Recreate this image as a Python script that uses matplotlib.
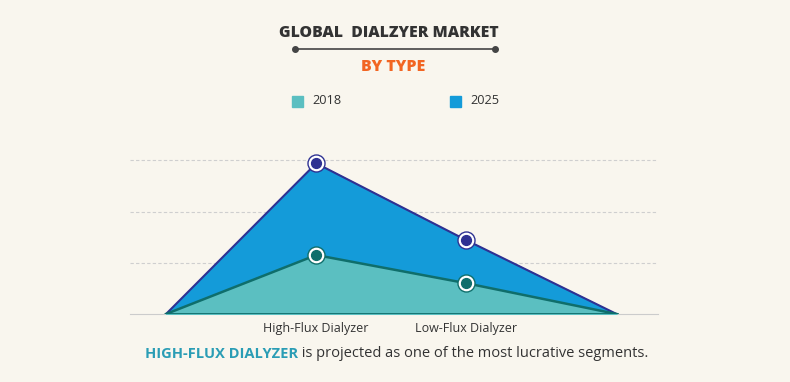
import matplotlib.pyplot as plt
from matplotlib.patches import Rectangle
from matplotlib.lines import Line2D

categories = ['', 'High-Flux Dialyzer', 'Low-Flux Dialyzer', '']
values_2018 = [0, 1.15, 0.60, 0]
values_2025 = [0, 2.94, 1.44, 0]

bg = '#f9f6ee'
fill_2018 = '#5bbfc1'
line_2018 = '#0f6e6b'
fill_2025 = '#149bd9'
line_2025 = '#2e3192'

W, H = 790, 382
fig = plt.figure(figsize=(W / 100, H / 100), dpi=100, facecolor=bg)
plt.rcParams['font.family'] = ['Open Sans', 'DejaVu Sans']

def fx(px):
    return px / W

def fy(py):
    return 1 - py / H

ax = fig.add_axes([fx(130), fy(314), fx(658) - fx(130), fy(150) - fy(314)])
ax.set_facecolor(bg)
x = list(range(len(categories)))

ax.fill_between(x, values_2025, color=fill_2025, zorder=2)
ax.plot(x, values_2025, color=line_2025, lw=1.5, zorder=3)
ax.fill_between(x, values_2018, color=fill_2018, zorder=4)
ax.plot(x, values_2018, color=line_2018, lw=1.8, zorder=5)
ax.plot([0, 3], [0, 0], color=line_2018, lw=2, zorder=5)

mid = x[1:3]
for vals, c in [(values_2025, line_2025), (values_2018, line_2018)]:
    ys = vals[1:3]
    ax.scatter(mid, ys, s=150, color=c, zorder=6)
    ax.scatter(mid, ys, s=105, color='white', zorder=7)
    ax.scatter(mid, ys, s=50, color=c, zorder=8)

ax.set_xlim(-0.24, 3.276)
ax.set_ylim(0, 3.2)
ax.set_yticks([1, 2, 3])
ax.yaxis.grid(True, color='#cfcfcf', lw=0.8, ls=(0, (3, 2)))
ax.set_axisbelow(True)
ax.set_xticks([1, 2])
ax.set_xticklabels(categories[1:3], fontsize=9, color='#333333')
ax.tick_params(axis='x', length=0, pad=6)
ax.tick_params(axis='y', length=0, labelleft=False)
for s in ['top', 'right', 'left']:
    ax.spines[s].set_visible(False)
ax.spines['bottom'].set_color('#cccccc')
ax.spines['bottom'].set_linewidth(0.8)

# titles
fig.text(fx(389), fy(33), 'GLOBAL  DIALZYER MARKET', ha='center', va='center',
         fontsize=11.3, fontweight='heavy', color='#333333')
fig.add_artist(Line2D([fx(295), fx(495)], [fy(49), fy(49)], color='#444444', lw=1.2,
                      transform=fig.transFigure))
fig.add_artist(Line2D([fx(295), fx(495)], [fy(49), fy(49)], color='#444444', lw=0,
                      marker='o', markersize=4, transform=fig.transFigure))
fig.text(fx(393), fy(67), 'BY TYPE', ha='center', va='center',
         fontsize=11.5, fontweight='heavy', color='#f26522')

# legend
for px, label, c in [(292, '2018', fill_2018), (450, '2025', fill_2025)]:
    fig.patches.append(Rectangle((fx(px), fy(107)), 11 / W, 11 / H, color=c,
                                 transform=fig.transFigure))
    fig.text(fx(px + 20), fy(101), label, ha='left', va='center', fontsize=9.2,
             color='#333333')

# caption
t1 = fig.text(fx(145), fy(354), 'HIGH-FLUX DIALYZER', ha='left', va='center',
              fontsize=10.5, fontweight='bold', color='#2a9db5')
ax.annotate(' is projected as one of the most lucrative segments.', xy=(1, 0),
            xycoords=t1, va='bottom', ha='left', fontsize=10.5, color='#333333',
            annotation_clip=False)

fig.savefig('out.png', dpi=100, facecolor=bg)
